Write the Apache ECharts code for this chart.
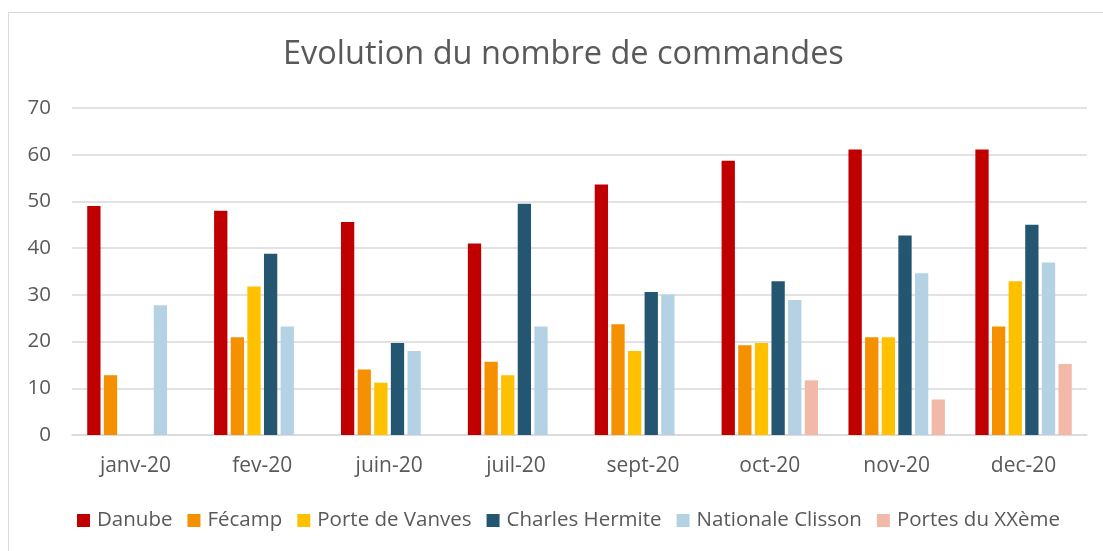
<!DOCTYPE html>
<html>
<head>
<meta charset="utf-8">
<script src="https://cdn.jsdelivr.net/npm/echarts@6/dist/echarts.min.js"></script>
<style>
html,body{margin:0;padding:0;background:#fff;}
#chart{width:1103px;height:551px;}
</style>
</head>
<body>
<div id="chart"></div>
<script>
const categories = ['janv-20','fev-20','juin-20','juil-20','sept-20','oct-20','nov-20','dec-20'];
const seriesNames = ['Danube','Fécamp','Porte de Vanves','Charles Hermite','Nationale Clisson','Portes du XXème'];
const danube = [49, 48, 45.6, 41, 53.6, 58.7, 61.1, 61.1];
const fecamp = [12.8, 20.9, 14, 15.7, 23.7, 19.2, 20.9, 23.2];
const porteDeVanves = [null, 31.8, 11.2, 12.8, 18, 19.7, 20.9, 32.9];
const charlesHermite = [null, 38.8, 19.7, 49.5, 30.6, 32.9, 42.7, 45];
const nationaleClisson = [27.8, 23.2, 18, 23.2, 30.1, 28.9, 34.6, 36.9];
const portesDuXXeme = [null, null, null, null, null, 11.7, 7.6, 15.2];
const yTicks = [0, 10, 20, 30, 40, 50, 60, 70];
const colors = ['#C00000','#F59100','#FFC000','#255671','#B4D2E3','#F2B9A8'];
const dataSets = [danube, fecamp, porteDeVanves, charlesHermite, nationaleClisson, portesDuXXeme];

const FONT = 'Open Sans';
const TXT = '#595959';
const chart = echarts.init(document.getElementById('chart'), null, {renderer:'canvas'});
chart.setOption({
  animation:false,
  backgroundColor:'#fff',
  color: colors,
  graphic:[{type:'rect', shape:{x:8.5,y:12.5,width:1110,height:560}, style:{fill:'none',stroke:'#d9d9d9',lineWidth:1}, silent:true, z:-1}],
  title:{text:'Evolution du nombre de commandes', left:278, top:33,
    textStyle:{fontFamily:FONT, fontSize:32.5, fontWeight:'normal', color:TXT}},
  grid:{left:72, right:16, top:108, bottom:116, containLabel:false},
  legend:{data:seriesNames, left:77, top:510, padding:0, itemWidth:13, itemHeight:13, itemGap:15, icon:'rect',
    textStyle:{fontFamily:FONT, fontSize:20.5, color:TXT, padding:[0,0,0,2]}},
  xAxis:{type:'category', data:categories,
    axisLine:{lineStyle:{color:'#d9d9d9', width:1.5}}, axisTick:{show:false},
    axisLabel:{fontFamily:FONT, fontSize:21, color:TXT, margin:21}},
  yAxis:{type:'value', min:yTicks[0], max:yTicks[yTicks.length-1], interval:10,
    axisLine:{show:false}, axisTick:{show:false},
    splitLine:{lineStyle:{color:'#d9d9d9', width:1.5}},
    axisLabel:{fontFamily:FONT, fontSize:20.5, color:TXT, margin:21}},
  series: seriesNames.map((n,i)=>({name:n, type:'bar', data:dataSets[i], barWidth:13.3, barGap:'25%',
    itemStyle:{color:colors[i]}}))
});
</script>
</body>
</html>
